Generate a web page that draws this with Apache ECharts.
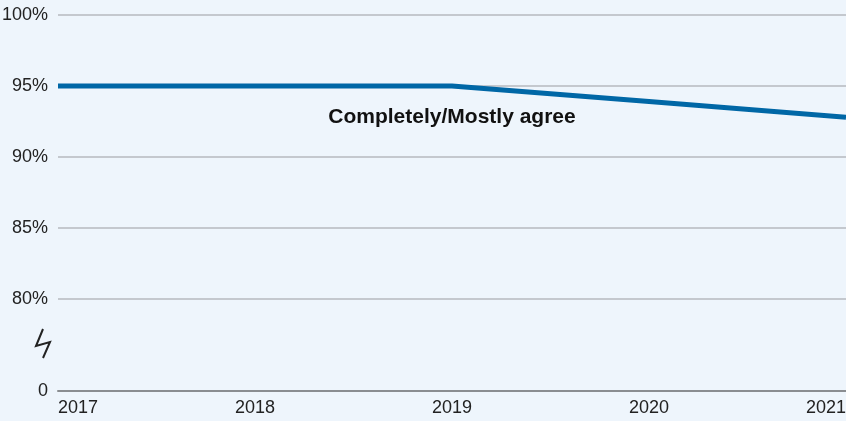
<!DOCTYPE html>
<html>
<head>
<meta charset="utf-8">
<script src="https://cdn.jsdelivr.net/npm/echarts@6/dist/echarts.min.js"></script>
<style>
  html, body { margin: 0; padding: 0; background: #eef5fc; }
  #chart { width: 846px; height: 421px; }
</style>
</head>
<body>
<div id="chart"></div>
<script>
// data
const years = ['2017', '2018', '2019', '2020', '2021']
const agree = [95, 95, 95, 93.9, 92.8]
const tickValues = [80, 85, 90, 95, 100]
// the axis is broken between 0 and 80, the 0 sits at this value on the scale
const zeroAt = 73.52

const chart = echarts.init(document.getElementById('chart'))

const option = {
  backgroundColor: '#eef5fc',
  textStyle: { fontFamily: 'Liberation Sans, Arial, sans-serif' },
  grid: { left: 58, right: 0, top: 15, bottom: 30, outerBoundsMode: 'none' },
  xAxis: {
    type: 'category',
    data: years,
    boundaryGap: false,
    axisLine: { lineStyle: { color: '#8a8d91', width: 2 } },
    axisTick: { show: false },
    axisLabel: {
      color: '#222',
      fontSize: 18,
      margin: 8,
      interval: 0,
      alignMinLabel: 'left',
      alignMaxLabel: 'right'
    }
  },
  yAxis: {
    type: 'value',
    min: zeroAt,
    max: 100,
    axisLine: { show: false },
    axisTick: { show: false, customValues: [zeroAt].concat(tickValues) },
    axisLabel: {
      customValues: [zeroAt].concat(tickValues),
      color: '#222',
      fontSize: 18,
      margin: 10,
      formatter: (v) => (v < 79 ? '0' : Math.round(v) + '%')
    },
    splitLine: { lineStyle: { color: '#c4c8ce', width: 2 } }
  },
  series: [
    {
      name: 'Completely/Mostly agree',
      type: 'line',
      data: agree,
      symbol: 'none',
      lineStyle: { color: '#0067a6', width: 5 }
    }
  ],
  graphic: [
    {
      type: 'text',
      x: 452,
      y: 117,
      style: {
        text: 'Completely/Mostly agree',
        fill: '#111',
        align: 'center',
        verticalAlign: 'middle',
        font: 'bold 21px Liberation Sans, Arial, sans-serif'
      }
    },
    {
      // break mark on the y axis
      type: 'polyline',
      shape: { points: [[43, 329], [36, 346], [50, 342], [43, 358]] },
      style: { stroke: '#222', lineWidth: 2, fill: null }
    }
  ]
}

chart.setOption(option)
</script>
</body>
</html>
